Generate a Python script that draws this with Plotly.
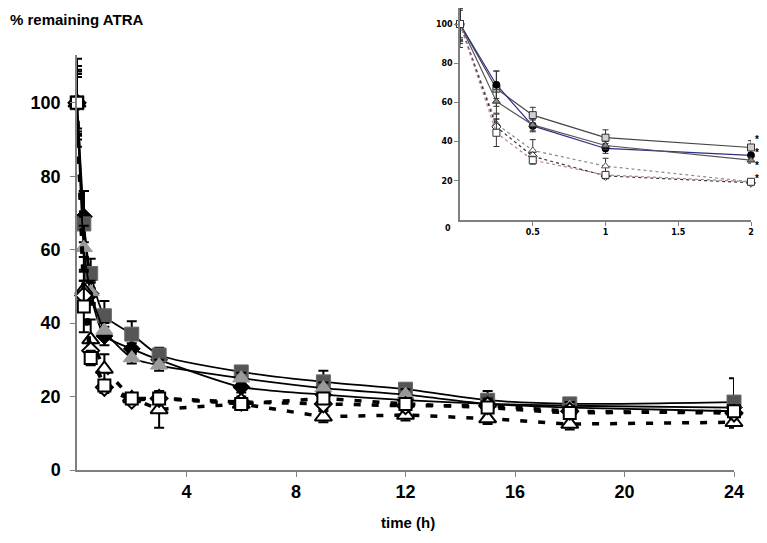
import plotly.graph_objects as go

# ---------------- data ----------------
time_h = [0, 0.25, 0.5, 1, 2, 3, 6, 9, 12, 15, 18, 24]

A_diamond = [100, 69, 48, 36.5, 33, 30, 22.6, 20.5, 19, 18, 17.5, 17]
A_err = [10, 7, 3, 2.5, 1.5, 1.5, 1.5, 1.5, 1.5, 3.5, 1.5, 1.5]
B_square = [100, 67, 53.5, 42, 37, 31.3, 26.7, 24, 22, 19, 18, 18.5]
B_err = [12, 9, 4, 4, 3.5, 2, 1.5, 3, 1.5, 1.5, 1.5, 6.5]
C_triangle = [100, 60.5, 48.5, 38, 30.5, 28.5, 25, 22.3, 20.5, 18, 17, 16]
C_err = [9, 6, 3, 2, 1.5, 1.5, 1.5, 1.5, 1.5, 1.5, 1.5, 1.5]
D_open_tri = [100, 49, 35.5, 27.5, 19.5, 16.5, 18, 14.5, 15, 14, 12.5, 13]
D_err = [8.5, 5, 5.5, 4, 1, 5, 1.5, 1.5, 1.5, 1.5, 1.5, 1.5]
E_open_dia = [100, 47.5, 32.5, 22.5, 19, 19.5, 18.5, 18, 17.5, 17.5, 16, 15.5]
E_err = [7.8, 4, 2, 1.5, 1, 1.5, 1.5, 1.5, 1.5, 1.5, 1.5, 1.5]
F_open_sq = [100, 44.5, 30.5, 23, 19.5, 19.5, 18, 19.5, 18, 17, 15.5, 16]
F_err = [7, 7, 2, 1.5, 1, 1.5, 1.5, 1.5, 1.5, 1.5, 1.5, 1.5]

main_xticks = [4, 8, 12, 16, 20, 24]
main_yticks = [0, 20, 40, 60, 80, 100]
inset_xticks = [0.5, 1, 1.5, 2]
inset_ytick_vals = [20, 40, 60, 80, 100]
N_INSET = 5  # first 2 hours shown in the inset

fig = go.Figure()

def err(arr, thick=2, width=5, color="black"):
    return dict(type="data", array=arr, visible=True, color=color, thickness=thick, width=width)

# ---------------- main chart ----------------
filled = [
    (A_diamond, A_err, "diamond", "black", "black", 13),
    (B_square, B_err, "square", "#555555", "#6a6a6a", 14),
    (C_triangle, C_err, "triangle-up", "#9a9a9a", "#9a9a9a", 15),
]
for y, e, sym, fc, lc, sz in filled:
    fig.add_trace(go.Scatter(
        x=time_h, y=y, mode="lines+markers", xaxis="x", yaxis="y",
        line=dict(color="black", width=1.8, shape="spline", smoothing=0.6),
        marker=dict(symbol=sym, size=sz, color=fc, line=dict(color=lc, width=1)),
        error_y=err(e), cliponaxis=False, showlegend=False))

opened = [
    (D_open_tri, D_err, "triangle-up", 15),
    (E_open_dia, E_err, "diamond", 13),
    (F_open_sq, F_err, "square", 12),
]
for y, e, sym, sz in opened:
    fig.add_trace(go.Scatter(
        x=time_h, y=y, mode="lines+markers", xaxis="x", yaxis="y",
        line=dict(color="black", width=3.5, dash="7px,11px"),
        marker=dict(symbol=sym, size=sz, color="white", line=dict(color="black", width=2)),
        error_y=err(e), cliponaxis=False, showlegend=False))

# ---------------- inset ----------------
inset_series = [
    (B_square, B_err, "square", "#cfcfcf", "#333333", "#444444", "solid"),
    (A_diamond, A_err, "circle", "black", "black", "#2e2e86", "solid"),
    (C_triangle, C_err, "triangle-up", "#8a8a8a", "#333333", "#555555", "solid"),
    (D_open_tri, D_err, "triangle-up", "white", "#555555", "#8a8a8a", "dot"),
    (E_open_dia, E_err, "diamond", "white", "#333333", "#333333", "dot"),
    (F_open_sq, F_err, "square", "white", "#333333", "#c07aa8", "dot"),
]
for y, e, sym, fc, mlc, lc, dash in inset_series:
    fig.add_trace(go.Scatter(
        x=time_h[:N_INSET], y=y[:N_INSET], mode="lines+markers", xaxis="x2", yaxis="y2",
        line=dict(color=lc, width=1.2, dash=dash),
        marker=dict(symbol=sym, size=7, color=fc, line=dict(color=mlc, width=1)),
        error_y=err(e[:N_INSET], thick=1, width=3, color="#333333"),
        cliponaxis=False, showlegend=False))

# ---------------- layout geometry ----------------
OFF = 8  # page body margin in the browser
W, H = 767 - OFF, 543 - OFF
L = 77 - OFF
R = 16
T = 0
B = H - (470 - OFF)
pw, ph = W - L - R, H - T - B

def px_x(p):  # reference pixel -> paper x
    return (p - OFF - L) / pw

def px_y(p):  # reference pixel -> paper y
    return (H - B - (p - OFF)) / ph

tick_font = dict(family="Liberation Sans, Arial, sans-serif", size=18, color="black", weight="bold")
inset_font = dict(family="DejaVu Sans, Verdana, sans-serif", size=8, color="black", weight="bold")

inset_top_val = (220 - OFF) / ((220 - 24) / 100.0)  # value at top of figure

fig.update_layout(
    width=W, height=H,
    margin=dict(l=L, r=R, t=T, b=B, autoexpand=False),
    paper_bgcolor="white", plot_bgcolor="white",
    showlegend=False,
    xaxis=dict(domain=[0, px_x(734)], range=[0, 24], tickvals=main_xticks,
               showgrid=False, zeroline=False, showline=True, linecolor="#7f7f7f", linewidth=1.5,
               ticks="outside", ticklen=5, tickcolor="#7f7f7f", tickfont=tick_font, anchor="y"),
    yaxis=dict(domain=[0, px_y(55)], range=[0, 113], tickvals=main_yticks,
               showgrid=False, zeroline=False, showline=True, linecolor="#7f7f7f", linewidth=1.5,
               ticks="outside", ticklen=5, tickcolor="#7f7f7f", tickfont=tick_font, anchor="x",
               ticklabelstandoff=6),
    xaxis2=dict(domain=[px_x(460), px_x(751)], range=[0, 2], tickvals=inset_xticks,
                ticktext=["0.5", "1", "1.5", "2"],
                showgrid=False, zeroline=False, showline=True, linecolor="#7f7f7f", linewidth=1.5,
                ticks="outside", ticklen=4, tickcolor="#7f7f7f", tickfont=inset_font, anchor="y2"),
    yaxis2=dict(domain=[px_y(220), 1.0], range=[0, inset_top_val], tickvals=inset_ytick_vals,
                showgrid=False, zeroline=False, showline=True, linecolor="#7f7f7f", linewidth=1.5,
                ticks="outside", ticklen=4, tickcolor="#7f7f7f", tickfont=inset_font, anchor="x2"),
    annotations=[
        dict(text="<b>% remaining ATRA</b>", xref="paper", yref="paper",
             x=px_x(OFF), y=px_y(19), xanchor="left", yanchor="middle", showarrow=False,
             font=dict(family="Liberation Sans, Arial, sans-serif", size=15, color="black")),
        dict(text="time (h)", xref="paper", yref="paper",
             x=px_x(408), y=px_y(522), xanchor="center", yanchor="middle", showarrow=False,
             font=dict(family="Liberation Sans, Arial, sans-serif",
                       size=15, color="black", weight="bold")),
        dict(text="0", xref="paper", yref="paper",
             x=px_x(448), y=px_y(229), xanchor="center", yanchor="middle", showarrow=False,
             font=inset_font),
        dict(text="*<br>*<br>*<br>*", xref="x2", yref="y2", x=2, y=31, xshift=6,
             showarrow=False, xanchor="center", yanchor="middle",
             font=dict(family="Liberation Sans, Arial, sans-serif", size=10, color="black",
                       weight="bold")),
    ],
)

fig.write_html("out.html")
